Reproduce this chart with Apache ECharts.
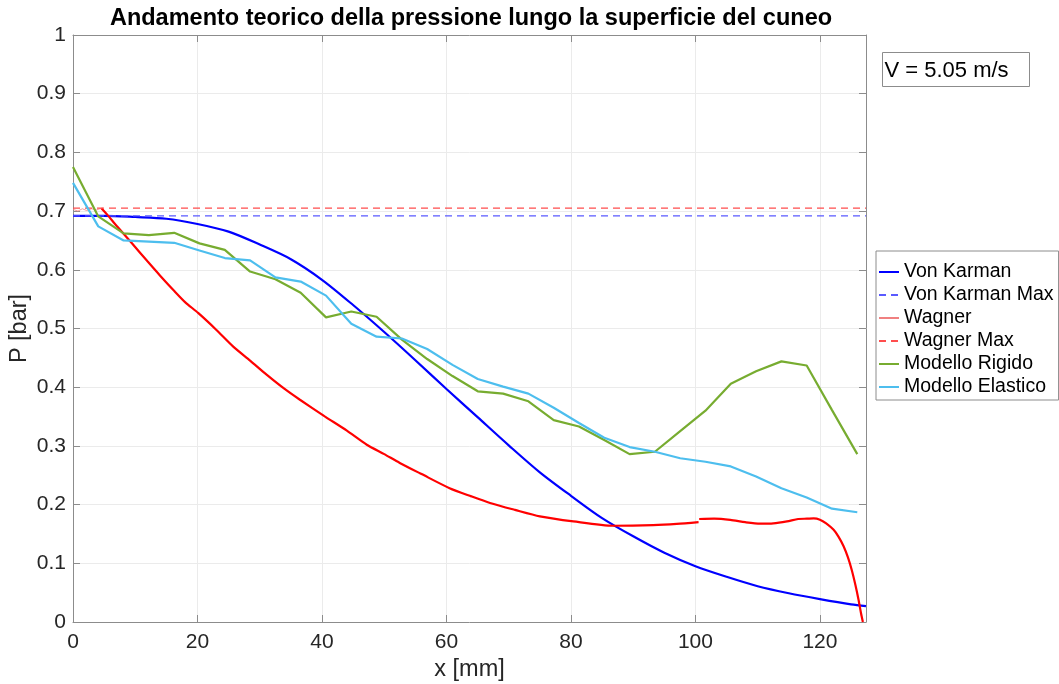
<!DOCTYPE html>
<html>
<head>
<meta charset="utf-8">
<title>Andamento teorico della pressione</title>
<script src="https://cdn.jsdelivr.net/npm/echarts@6/dist/echarts.min.js"></script>
<style>
  html, body { margin: 0; padding: 0; background: #ffffff; }
  #chart { width: 1059px; height: 684px; }
</style>
</head>
<body>
<div id="chart"></div>
<script>
// ---- data (x in mm, P in bar) ----
const xTicks = [0, 20, 40, 60, 80, 100, 120];
const yTicks = [0, 0.1, 0.2, 0.3, 0.4, 0.5, 0.6, 0.7, 0.8, 0.9, 1];
const xMax = 127.4;

// Von Karman theoretical pressure
const vonKarmanX = [0, 5, 10, 15, 20, 25, 30, 35, 40, 45, 50, 55, 60, 65, 70, 75, 80, 85, 90, 95, 100, 105, 110, 115, 120, 125, 127.4];
const vonKarmanP = [0.692, 0.692, 0.690, 0.687, 0.678, 0.665, 0.643, 0.618, 0.583, 0.540, 0.494, 0.446, 0.397, 0.349, 0.301, 0.255, 0.215, 0.177, 0.146, 0.118, 0.095, 0.077, 0.061, 0.049, 0.039, 0.030, 0.027];
const vonKarmanMax = 0.692;

// Wagner: short thin start segment, then the main curve (break at ~100.5 mm)
const wagnerStartX = [0, 0.8, 1.5, 2.2, 3.0, 3.8, 4.56];
const wagnerStartP = [0.703, 0.700, 0.704, 0.701, 0.704, 0.702, 0.705];
const wagnerX = [4.56, 5.5, 7, 9.4, 12, 14, 16.35, 18, 20.1, 23, 25.7, 28.5, 31.1, 34, 36.4, 40.5, 44, 47.2, 50, 52.5, 56, 60.5, 64, 67, 71, 75, 80.4, 86.8, 93.2, 97, 100.5,
                 100.55,
                 100.6, 103, 105.6, 108, 110.4, 112.5, 114.7, 116.5, 117.9, 119, 120, 121, 122.2, 123, 123.8, 124.5, 125.1, 125.7, 126.2, 126.6, 126.9];
const wagnerP = [0.705, 0.694, 0.675, 0.646, 0.614, 0.590, 0.563, 0.545, 0.5265, 0.498, 0.4696, 0.445, 0.4214, 0.397, 0.379, 0.350, 0.326, 0.302, 0.286, 0.271, 0.252, 0.228, 0.214, 0.2028, 0.191, 0.180, 0.1714, 0.164, 0.165, 0.167, 0.170,
                 null,
                 0.1755, 0.176, 0.174, 0.170, 0.1675, 0.168, 0.1714, 0.1755, 0.176, 0.1765, 0.1743, 0.168, 0.157, 0.145, 0.129, 0.110, 0.089, 0.063, 0.038, 0.015, 0.0];
const wagnerMax = 0.705;

// Numerical models (rigid / elastic wedge)
const modelX = [0, 4.06, 8.13, 12.19, 16.26, 20.32, 24.39, 28.45, 32.52, 36.58, 40.65, 44.71, 48.77, 52.84, 56.90, 60.97,
                65.03, 69.10, 73.16, 77.23, 81.29, 85.35, 89.42, 93.48, 97.55, 101.61, 105.68, 109.74, 113.81, 117.87, 121.94, 126.0];
const rigidP = [0.775, 0.691, 0.662, 0.659, 0.663, 0.645, 0.634, 0.597, 0.584, 0.561, 0.519, 0.529, 0.520, 0.481, 0.448, 0.419,
                0.393, 0.389, 0.376, 0.344, 0.333, 0.310, 0.286, 0.290, 0.325, 0.360, 0.406, 0.427, 0.444, 0.437, 0.361, 0.286];
const elasticP = [0.748, 0.674, 0.650, 0.648, 0.646, 0.633, 0.620, 0.616, 0.587, 0.580, 0.556, 0.508, 0.486, 0.483, 0.465, 0.438,
                  0.414, 0.401, 0.389, 0.365, 0.339, 0.314, 0.298, 0.290, 0.279, 0.273, 0.265, 0.248, 0.228, 0.212, 0.193, 0.187];

const seriesNames = ['Von Karman', 'Von Karman Max', 'Wagner', 'Wagner Max', 'Modello Rigido', 'Modello Elastico'];

// ---- helpers ----
const pairs = (xs, ys) => xs.map((x, i) => [x, ys[i] === null ? '-' : ys[i]]);
const FONT = '"Liberation Sans", Arial, Helvetica, sans-serif';
const AXIS_COLOR = '#8c8c8c';
const TEXT_COLOR = '#262626';

const chart = echarts.init(document.getElementById('chart'), null, { renderer: 'canvas' });

const baseX = {
  type: 'value', min: xTicks[0], max: xMax, interval: xTicks[1] - xTicks[0],
  axisLine: { show: true, onZero: false, lineStyle: { color: AXIS_COLOR, width: 1 } },
  axisTick: { show: true, inside: true, length: 7, lineStyle: { color: AXIS_COLOR } }
};
const baseY = {
  type: 'value', min: yTicks[0], max: yTicks[yTicks.length - 1], interval: 0.1,
  axisLine: { show: true, onZero: false, lineStyle: { color: AXIS_COLOR, width: 1 } },
  axisTick: { show: true, inside: true, length: 7, lineStyle: { color: AXIS_COLOR } }
};

const option = {
  animation: false,
  backgroundColor: '#ffffff',
  title: {
    text: 'Andamento teorico della pressione lungo la superficie del cuneo',
    left: 466, top: 2, textAlign: 'center',
    textStyle: { fontFamily: FONT, fontSize: 23.5, fontWeight: 'bold', color: '#000000' }
  },
  grid: { left: 73, right: 193, top: 35, bottom: 62, containLabel: false, outerBoundsMode: 'none' },
  xAxis: [
    Object.assign({}, baseX, {
      position: 'bottom',
      axisLabel: {
        fontFamily: FONT, fontSize: 21, color: TEXT_COLOR, margin: 10,
        formatter: v => (xTicks.includes(v) ? String(v) : '')
      },
      splitLine: { show: true, lineStyle: { color: '#ebebeb', width: 1 } },
      name: 'x [mm]', nameLocation: 'middle', nameGap: 36, nameMoveOverlap: false,
      nameTextStyle: { fontFamily: FONT, fontSize: 23.5, color: TEXT_COLOR }
    }),
    Object.assign({}, baseX, {
      position: 'top', axisLabel: { show: false }, splitLine: { show: false }
    })
  ],
  yAxis: [
    Object.assign({}, baseY, {
      position: 'left',
      axisLabel: {
        fontFamily: FONT, fontSize: 21, color: TEXT_COLOR, margin: 7,
        formatter: v => String(Math.round(v * 10) / 10)
      },
      splitLine: { show: true, lineStyle: { color: '#ebebeb', width: 1 } },
      name: 'P [bar]', nameLocation: 'middle', nameGap: 41, nameRotate: 90, nameMoveOverlap: false,
      nameTextStyle: { fontFamily: FONT, fontSize: 23.5, color: TEXT_COLOR }
    }),
    Object.assign({}, baseY, {
      position: 'right', axisLabel: { show: false }, splitLine: { show: false }
    })
  ],
  legend: {
    show: true,
    orient: 'vertical', left: 876, top: 251, right: 'auto', bottom: 'auto',
    padding: [11, 5, 3, 2], itemGap: 3, itemWidth: 20, itemHeight: 14,
    backgroundColor: '#ffffff', borderColor: AXIS_COLOR, borderWidth: 1, borderRadius: 0,
    itemStyle: { opacity: 0 },
    textStyle: { fontFamily: FONT, fontSize: 19.5, color: '#000000' },
    data: seriesNames
  },
  graphic: [{
    type: 'group', left: 882, top: 52,
    children: [
      { type: 'rect', shape: { x: 0, y: 0, width: 147, height: 34 },
        style: { fill: '#ffffff', stroke: AXIS_COLOR, lineWidth: 1 } },
      { type: 'text', x: 2, y: 18,
        style: { text: 'V = 5.05 m/s', fontFamily: FONT, fontSize: 22, fill: '#000000', verticalAlign: 'middle' } }
    ]
  }],
  series: [
    {
      name: seriesNames[0], type: 'line', showSymbol: false, symbol: 'none',
      smooth: 0.3,
      lineStyle: { color: '#0000ff', width: 2.2 }, itemStyle: { color: '#0000ff' },
      data: pairs(vonKarmanX, vonKarmanP), z: 3
    },
    {
      name: seriesNames[1], type: 'line', showSymbol: false, symbol: 'none',
      lineStyle: { color: '#5a5aff', width: 1.3, type: [7, 5] }, itemStyle: { color: '#5a5aff' },
      data: [[0, vonKarmanMax], [xMax, vonKarmanMax]], z: 3
    },
    {
      name: seriesNames[2], type: 'line', showSymbol: false, symbol: 'none',
      lineStyle: { color: '#f08080', width: 0.8 }, itemStyle: { color: '#f08080' },
      data: pairs(wagnerStartX, wagnerStartP), z: 3
    },
    {
      name: seriesNames[2], type: 'line', showSymbol: false, symbol: 'none',
      smooth: 0.25, connectNulls: false,
      lineStyle: { color: '#ff0000', width: 2.2 }, itemStyle: { color: '#ff0000' },
      data: pairs(wagnerX, wagnerP), z: 3
    },
    {
      name: seriesNames[3], type: 'line', showSymbol: false, symbol: 'none',
      lineStyle: { color: '#ff4d4d', width: 1.3, type: [7, 5] }, itemStyle: { color: '#ff4d4d' },
      data: [[0, wagnerMax], [xMax, wagnerMax]], z: 3
    },
    {
      name: seriesNames[4], type: 'line', showSymbol: false, symbol: 'none',
      lineStyle: { color: '#77ac30', width: 2.2 }, itemStyle: { color: '#77ac30' },
      data: pairs(modelX, rigidP), z: 3
    },
    {
      name: seriesNames[5], type: 'line', showSymbol: false, symbol: 'none',
      lineStyle: { color: '#4dbeee', width: 2.2 }, itemStyle: { color: '#4dbeee' },
      data: pairs(modelX, elasticP), z: 3
    }
  ]
};

chart.setOption(option);
</script>
</body>
</html>
